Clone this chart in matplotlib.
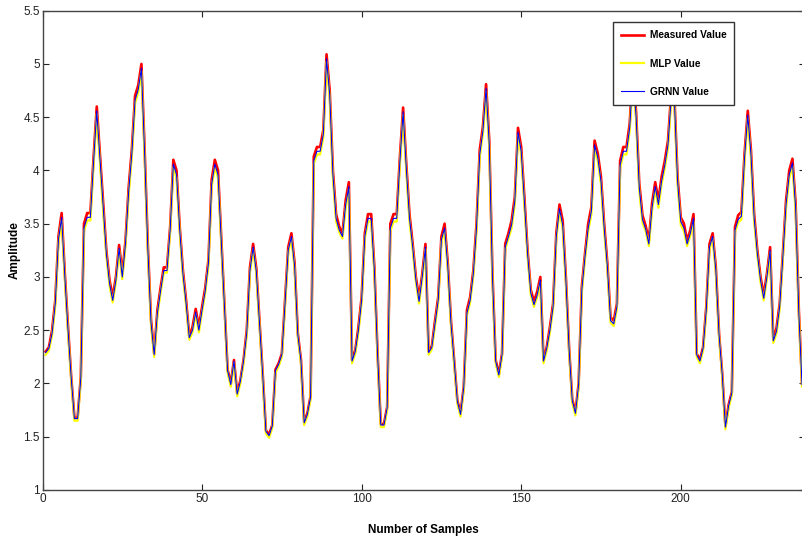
import matplotlib
matplotlib.use('Agg')
import matplotlib.pyplot as plt
import numpy as np

plt.rcParams['font.family'] = ['Liberation Sans', 'DejaVu Sans']

# measured amplitude (samples 1..238)
measured = [
    2.30, 2.34, 2.50, 2.78, 3.38, 3.60, 3.03, 2.53, 2.06, 1.68,
    1.68, 2.06, 3.50, 3.60, 3.60, 4.12, 4.60, 4.15, 3.69, 3.25,
    2.97, 2.81, 3.00, 3.30, 3.03, 3.34, 3.84, 4.20, 4.70, 4.80,
    5.00, 4.20, 3.30, 2.60, 2.28, 2.69, 2.90, 3.09, 3.09, 3.47,
    4.10, 4.00, 3.47, 3.06, 2.78, 2.44, 2.53, 2.70, 2.53, 2.72,
    2.90, 3.16, 3.91, 4.10, 4.00, 3.38, 2.78, 2.13, 2.00, 2.22,
    1.91, 2.03, 2.22, 2.50, 3.09, 3.31, 3.08, 2.59, 2.09, 1.56,
    1.52, 1.61, 2.13, 2.19, 2.28, 2.78, 3.28, 3.41, 3.13, 2.47,
    2.22, 1.64, 1.72, 1.88, 4.13, 4.22, 4.22, 4.38, 5.09, 4.75,
    4.00, 3.59, 3.47, 3.41, 3.72, 3.89, 2.22, 2.31, 2.53, 2.81,
    3.41, 3.59, 3.59, 3.09, 2.28, 1.62, 1.62, 1.78, 3.50, 3.59,
    3.59, 4.13, 4.59, 4.06, 3.59, 3.31, 3.00, 2.80, 3.03, 3.31,
    2.30, 2.35, 2.59, 2.81, 3.38, 3.50, 3.13, 2.59, 2.22, 1.84,
    1.72, 1.97, 2.69, 2.81, 3.06, 3.50, 4.19, 4.41, 4.81, 4.28,
    3.03, 2.22, 2.09, 2.28, 3.31, 3.41, 3.53, 3.75, 4.40, 4.22,
    3.75, 3.25, 2.88, 2.77, 2.86, 3.00, 2.22, 2.34, 2.53, 2.75,
    3.41, 3.68, 3.53, 3.00, 2.34, 1.85, 1.73, 2.00, 2.91, 3.22,
    3.50, 3.66, 4.28, 4.16, 3.94, 3.50, 3.13, 2.62, 2.59, 2.75,
    4.09, 4.22, 4.22, 4.44, 4.95, 4.55, 3.88, 3.58, 3.48, 3.34,
    3.69, 3.89, 3.72, 3.94, 4.09, 4.28, 4.72, 4.70, 3.94, 3.56,
    3.50, 3.34, 3.44, 3.59, 2.28, 2.22, 2.34, 2.72, 3.31, 3.41,
    3.09, 2.47, 2.09, 1.60, 1.80, 1.92, 3.47, 3.58, 3.61, 4.16,
    4.56, 4.19, 3.59, 3.25, 3.00, 2.83, 3.03, 3.28, 2.41, 2.52,
    2.75, 3.22, 3.72, 4.00, 4.11, 3.69, 2.69, 2.00,
]

# MLP prediction (sits just under the measured curve)
mlp = [
    2.27, 2.31, 2.45, 2.73, 3.33, 3.53, 2.98, 2.48, 2.03, 1.65,
    1.65, 2.03, 3.43, 3.53, 3.53, 4.05, 4.53, 4.08, 3.62, 3.20,
    2.92, 2.76, 2.95, 3.25, 2.98, 3.29, 3.77, 4.13, 4.63, 4.73,
    4.93, 4.13, 3.25, 2.55, 2.25, 2.64, 2.85, 3.04, 3.04, 3.42,
    4.03, 3.93, 3.42, 3.01, 2.73, 2.41, 2.48, 2.65, 2.48, 2.67,
    2.85, 3.11, 3.84, 4.03, 3.93, 3.33, 2.73, 2.10, 1.97, 2.19,
    1.88, 2.00, 2.19, 2.45, 3.04, 3.26, 3.03, 2.54, 2.06, 1.53,
    1.49, 1.58, 2.10, 2.16, 2.25, 2.73, 3.23, 3.36, 3.08, 2.44,
    2.19, 1.61, 1.69, 1.85, 4.06, 4.15, 4.15, 4.31, 5.02, 4.68,
    3.93, 3.52, 3.42, 3.36, 3.65, 3.82, 2.19, 2.28, 2.48, 2.76,
    3.36, 3.52, 3.52, 3.04, 2.25, 1.59, 1.59, 1.75, 3.43, 3.52,
    3.52, 4.06, 4.52, 3.99, 3.52, 3.26, 2.95, 2.75, 2.98, 3.26,
    2.27, 2.32, 2.54, 2.76, 3.33, 3.43, 3.08, 2.54, 2.19, 1.81,
    1.69, 1.94, 2.64, 2.76, 3.01, 3.43, 4.12, 4.34, 4.74, 4.21,
    2.98, 2.19, 2.06, 2.25, 3.26, 3.36, 3.46, 3.68, 4.33, 4.15,
    3.68, 3.20, 2.83, 2.72, 2.81, 2.95, 2.19, 2.31, 2.48, 2.70,
    3.36, 3.61, 3.46, 2.95, 2.31, 1.82, 1.70, 1.97, 2.86, 3.17,
    3.43, 3.59, 4.21, 4.09, 3.87, 3.43, 3.08, 2.57, 2.54, 2.70,
    4.02, 4.15, 4.15, 4.37, 4.88, 4.48, 3.81, 3.51, 3.43, 3.29,
    3.62, 3.82, 3.65, 3.87, 4.02, 4.21, 4.65, 4.63, 3.87, 3.49,
    3.43, 3.29, 3.39, 3.52, 2.25, 2.19, 2.31, 2.67, 3.26, 3.36,
    3.04, 2.44, 2.06, 1.57, 1.77, 1.89, 3.42, 3.51, 3.54, 4.09,
    4.49, 4.12, 3.52, 3.20, 2.95, 2.78, 2.98, 3.23, 2.38, 2.47,
    2.70, 3.17, 3.65, 3.93, 4.04, 3.62, 2.64, 1.97,
]

# GRNN prediction (between the two)
grnn = [
    2.29, 2.33, 2.47, 2.75, 3.35, 3.56, 3.00, 2.50, 2.05, 1.67,
    1.67, 2.05, 3.46, 3.56, 3.56, 4.08, 4.56, 4.11, 3.65, 3.22,
    2.94, 2.78, 2.97, 3.27, 3.00, 3.31, 3.80, 4.16, 4.66, 4.76,
    4.96, 4.16, 3.27, 2.57, 2.27, 2.66, 2.87, 3.06, 3.06, 3.44,
    4.06, 3.96, 3.44, 3.03, 2.75, 2.43, 2.50, 2.67, 2.50, 2.69,
    2.87, 3.13, 3.87, 4.06, 3.96, 3.35, 2.75, 2.12, 1.99, 2.21,
    1.90, 2.02, 2.21, 2.47, 3.06, 3.28, 3.05, 2.56, 2.08, 1.55,
    1.51, 1.60, 2.12, 2.18, 2.27, 2.75, 3.25, 3.38, 3.10, 2.46,
    2.21, 1.63, 1.71, 1.87, 4.09, 4.18, 4.18, 4.34, 5.05, 4.71,
    3.96, 3.55, 3.44, 3.38, 3.68, 3.85, 2.21, 2.30, 2.50, 2.78,
    3.38, 3.55, 3.55, 3.06, 2.27, 1.61, 1.61, 1.77, 3.46, 3.55,
    3.55, 4.09, 4.55, 4.02, 3.55, 3.28, 2.97, 2.77, 3.00, 3.28,
    2.29, 2.34, 2.56, 2.78, 3.35, 3.46, 3.10, 2.56, 2.21, 1.83,
    1.71, 1.96, 2.66, 2.78, 3.03, 3.46, 4.15, 4.37, 4.77, 4.24,
    3.00, 2.21, 2.08, 2.27, 3.28, 3.38, 3.49, 3.71, 4.36, 4.18,
    3.71, 3.22, 2.85, 2.74, 2.83, 2.97, 2.21, 2.33, 2.50, 2.72,
    3.38, 3.64, 3.49, 2.97, 2.33, 1.84, 1.72, 1.99, 2.88, 3.19,
    3.46, 3.62, 4.24, 4.12, 3.90, 3.46, 3.10, 2.59, 2.56, 2.72,
    4.05, 4.18, 4.18, 4.40, 4.91, 4.51, 3.84, 3.54, 3.45, 3.31,
    3.65, 3.85, 3.68, 3.90, 4.05, 4.24, 4.68, 4.66, 3.90, 3.52,
    3.46, 3.31, 3.41, 3.55, 2.27, 2.21, 2.33, 2.69, 3.28, 3.38,
    3.06, 2.46, 2.08, 1.59, 1.79, 1.91, 3.44, 3.54, 3.57, 4.12,
    4.52, 4.15, 3.55, 3.22, 2.97, 2.80, 3.00, 3.25, 2.40, 2.49,
    2.72, 3.19, 3.68, 3.96, 4.07, 3.65, 2.66, 1.99,
]

samples = np.arange(1, len(measured) + 1)
x_ticks = [0, 50, 100, 150, 200]
y_ticks = [1, 1.5, 2, 2.5, 3, 3.5, 4, 4.5, 5, 5.5]

fig = plt.figure(figsize=(8.02, 5.44), dpi=100)
ax = fig.add_axes([0.053, 0.0993, 0.951, 0.8811])

ax.plot(samples, measured, color='red', lw=1.9, label='Measured Value')
ax.plot(samples, mlp, color='yellow', lw=1.6, label='MLP Value')
ax.plot(samples, grnn, color='blue', lw=0.8, label='GRNN Value')

ax.set_xlim(0, 239)
ax.set_ylim(1, 5.5)
ax.set_xticks(x_ticks)
ax.set_xticklabels([str(t) for t in x_ticks])
ax.set_yticks(y_ticks)
ax.set_yticklabels(['%g' % t for t in y_ticks])
ax.tick_params(direction='in', length=4, width=0.8, top=True, right=True,
               labelsize=8.5, colors='#222222', pad=2)
for sp in ax.spines.values():
    sp.set_color('#444444')
    sp.set_linewidth(1.0)

ax.set_xlabel('Number of Samples', fontsize=8.5, fontweight='bold')
ax.xaxis.set_label_coords(0.5, -0.07)
ax.set_ylabel('Amplitude', fontsize=8.5, fontweight='bold')
ax.yaxis.set_label_coords(-0.029, 0.5)

leg = ax.legend(loc='upper left', bbox_to_anchor=(0.748, 0.976), fancybox=False,
                framealpha=1, edgecolor='#333333', fontsize=7.3,
                handlelength=2.3, borderpad=0.8, labelspacing=1.8,
                handletextpad=0.5, borderaxespad=0)
leg.get_frame().set_linewidth(1.0)
for t in leg.get_texts():
    t.set_fontweight('bold')

fig.savefig('out.png', dpi=100)
